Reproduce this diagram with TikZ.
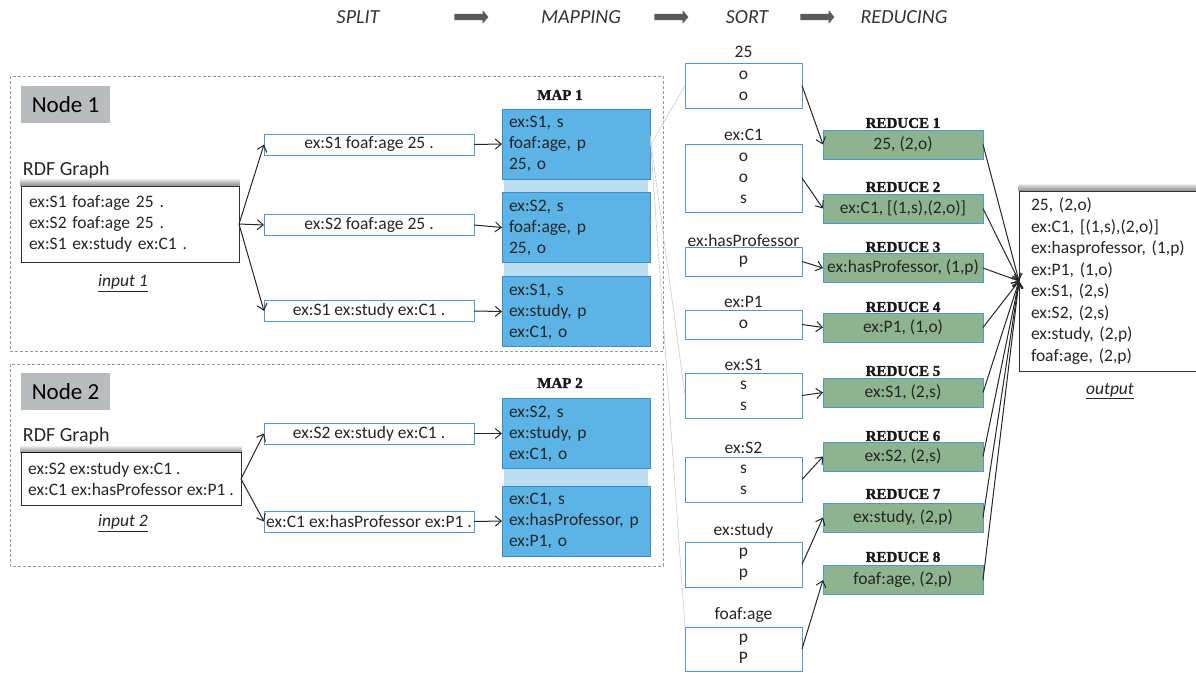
\documentclass[tikz,border=0pt]{standalone}
\usepackage{fontspec}
\setmainfont{Carlito}
\newfontfamily\titlefont{Liberation Serif}[BoldFeatures={FakeBold=1.6}]
\usetikzlibrary{arrows.meta,shapes.arrows}
\definecolor{mapblue}{HTML}{5BB4E5}
\definecolor{mapedge}{HTML}{3C8DCB}
\definecolor{gapblue}{HTML}{BDDDF2}
\definecolor{redgreen}{HTML}{8DB48E}
\definecolor{boxedge}{HTML}{4A9BCB}
\definecolor{nodegrey}{HTML}{B7BDBE}
\definecolor{arrowgrey}{HTML}{5A5A5A}
\tikzset{
 txt/.style={font=\fontsize{17.5}{21}\selectfont, text=black!85},
 hdr/.style={font=\fontsize{20}{22}\selectfont\itshape, text=black!80},
 harrow/.style={single arrow, fill=arrowgrey, draw=none, minimum height=34pt, minimum width=13pt, single arrow head extend=3.5pt, single arrow tip angle=100, inner xsep=0pt, inner ysep=3pt},
 dashbox/.style={draw=black!40, dash pattern=on 3pt off 2pt, line width=0.8pt},
 nodelabel/.style={fill=nodegrey, minimum width=89pt, minimum height=37pt, font=\fontsize{23}{26}\selectfont},
 inbox/.style={draw=black!80, fill=white, line width=0.8pt, txt, align=left, inner ysep=0pt},
 splitbox/.style={draw=boxedge, fill=white, line width=1pt, minimum width=210pt, minimum height=21pt, txt},
 mapbox/.style={fill=mapblue, draw=mapedge, line width=1pt, minimum width=148pt, minimum height=70pt, txt, align=left, text width=134pt, inner xsep=7pt, inner ysep=0pt},
 sortbox/.style={draw=boxedge, fill=white, line width=1pt, minimum width=117pt, txt, align=center},
 redbox/.style={fill=redgreen, draw=boxedge, line width=1pt, minimum width=160pt, minimum height=29pt, txt},
 ttl/.style={font=\titlefont\bfseries\fontsize{15}{17}\selectfont, text=black!90},
 arr/.style={draw=black!85, line width=1pt, -{Straight Barb[length=6pt,width=10pt]}},
 fan/.style={draw=black!20, line width=0.6pt},
}
\newcommand{\topshade}[1]{%
  \foreach \k in {1,...,7} \fill[black, opacity=0.07] ([xshift=-1pt]#1.north west) rectangle ([xshift=1pt, yshift=\k pt]#1.north east);}
\begin{document}
\begin{tikzpicture}[x=1pt,y=-1pt, every node/.append style={inner sep=0pt, outer sep=0pt}]
\useasboundingbox (0,0) rectangle (1196,672);
% header
\node[hdr] (hsplit) at (358,17) {SPLIT};
\node[harrow] (ha1) at (470,17) {};
\node[hdr] (hmap) at (581,17) {MAPPING};
\node[harrow] (ha2) at (670,17) {};
\node[hdr] (hsort) at (747,17) {SORT};
\node[harrow] (ha3) at (816,17) {};
\node[hdr] (hred) at (904,17) {REDUCING};
% node containers
\draw[dashbox] (10,76) rectangle (663,351);
\draw[dashbox] (10,364) rectangle (663,566);
\node[nodelabel] (n1) at (65.5,104.5) {Node 1};
\node[nodelabel] (n2) at (65.5,391.5) {Node 2};
% inputs
\node[font=\fontsize{20}{22}\selectfont, text=black!85, anchor=west] (rdf1) at (23,170) {RDF Graph};
\node[inbox, minimum width=218pt, minimum height=76pt, text width=202pt, inner xsep=8pt] (in1) at (130,224)
  {ex:S1 foaf:age 25 .\\ex:S2 foaf:age 25 .\\ex:S1 ex:study ex:C1 .};
\topshade{in1}
\node[txt] (lab1) at (123,283) {\itshape\underline{input 1}};
\node[font=\fontsize{20}{22}\selectfont, text=black!85, anchor=west] (rdf2) at (23,436) {RDF Graph};
\node[inbox, minimum width=220pt, minimum height=53pt] (in2) at (131,479)
  {ex:S2 ex:study ex:C1 .\\ex:C1 ex:hasProfessor ex:P1 .};
\topshade{in2}
\node[txt] (lab2) at (123,523) {\itshape\underline{input 2}};
% split
\node[splitbox] (sp1) at (369,144.5) {ex:S1 foaf:age 25 .};
\node[splitbox] (sp2) at (369,225) {ex:S2 foaf:age 25 .};
\node[splitbox] (sp3) at (369,311) {ex:S1 ex:study ex:C1 .};
\node[splitbox] (sp4) at (369,433.5) {ex:S2 ex:study ex:C1 .};
\node[splitbox] (sp5) at (369,521.5) {ex:C1 ex:hasProfessor ex:P1 .};
% map
\fill[gapblue] (504,179) rectangle (648,193);
\fill[gapblue] (504,262) rectangle (648,277);
\fill[gapblue] (504,468) rectangle (648,487);
\node[ttl] (map1) at (560,95) {MAP 1};
\node[mapbox] (m1a) at (576,144) {ex:S1, s\\foaf:age, p\\25, o};
\node[mapbox] (m1b) at (576,227.5) {ex:S2, s\\foaf:age, p\\25, o};
\node[mapbox] (m1c) at (576,311.5) {ex:S1, s\\ex:study, p\\ex:C1, o};
\node[ttl] (map2) at (560,383) {MAP 2};
\node[mapbox] (m2a) at (576,433.5) {ex:S2, s\\ex:study, p\\ex:C1, o};
\node[mapbox] (m2b) at (576,521) {ex:C1, s\\ex:hasProfessor, p\\ex:P1, o};
% sort
\node[sortbox, minimum height=45pt] (s1) at (743.5,85.5) {o\\o};
\node[sortbox, minimum height=68pt] (s2) at (743.5,178) {o\\o\\s};
\node[sortbox, minimum height=29pt] (s3) at (743.5,261.5) {p};
\node[sortbox, minimum height=29pt] (s4) at (743.5,324.5) {o};
\node[sortbox, minimum height=45pt] (s5) at (743.5,395.5) {s\\s};
\node[sortbox, minimum height=45pt] (s6) at (743.5,479.5) {s\\s};
\node[sortbox, minimum height=45pt] (s7) at (743.5,564.5) {p\\p};
\node[sortbox, minimum height=44pt] (s8) at (743.5,649) {p\\P};
\node[txt] (k1) at (743.5,52) {25};
\node[txt] (k2) at (743.5,135) {ex:C1};
\node[txt] (k3) at (743.5,240) {ex:hasProfessor};
\node[txt] (k4) at (743.5,302) {ex:P1};
\node[txt] (k5) at (743.5,365) {ex:S1};
\node[txt] (k6) at (743.5,448) {ex:S2};
\node[txt] (k7) at (743.5,531) {ex:study};
\node[txt] (k8) at (743.5,615) {foaf:age};
% reduce
\node[redbox] (r1) at (903,144.5) {25, (2,o)};
\node[redbox] (r2) at (903,208.5) {ex:C1, [(1,s),(2,o)]};
\node[redbox] (r3) at (903,268) {ex:hasProfessor, (1,p)};
\node[redbox] (r4) at (903,327.5) {ex:P1, (1,o)};
\node[redbox] (r5) at (903,392.5) {ex:S1, (2,s)};
\node[redbox] (r6) at (903,456.5) {ex:S2, (2,s)};
\node[redbox] (r7) at (903,517.5) {ex:study, (2,p)};
\node[redbox] (r8) at (903,580) {foaf:age, (2,p)};
\node[ttl] (t1) at (903,123) {REDUCE 1};
\node[ttl] (t2) at (903,187) {REDUCE 2};
\node[ttl] (t3) at (903,247) {REDUCE 3};
\node[ttl] (t4) at (903,307) {REDUCE 4};
\node[ttl] (t5) at (903,371) {REDUCE 5};
\node[ttl] (t6) at (903,436) {REDUCE 6};
\node[ttl] (t7) at (903,494) {REDUCE 7};
\node[ttl] (t8) at (903,557) {REDUCE 8};
% output
\node[draw=black!80, fill=white, line width=0.8pt, anchor=north west, minimum width=190pt, minimum height=180pt,
  text width=166pt, inner xsep=12pt, align=left, font=\fontsize{17.5}{21.5}\selectfont, text=black!85] (out) at (1019,191)
  {25, (2,o)\\ex:C1, [(1,s),(2,o)]\\ex:hasprofessor, (1,p)\\ex:P1, (1,o)\\ex:S1, (2,s)\\ex:S2, (2,s)\\ex:study, (2,p)\\foaf:age, (2,p)};
\topshade{out}
\node[txt] (labo) at (1110,391) {\itshape\underline{output}};
% fan lines
\draw[fan] ([yshift=-2pt]m1a.east) -- (s1.west);
\draw[fan] ([yshift=8pt]m1a.east) -- (s5.west);
\draw[fan] ([yshift=9pt]m1a.east) -- (s8.north west);
% connectors
\foreach \t in {sp1,sp2,sp3} \draw[arr] (in1.east) -- (\t.west);
\foreach \t in {sp4,sp5} \draw[arr] (in2.east) -- (\t.west);
\draw[arr] (sp1.east) -- (m1a.west);
\draw[arr] (sp2.east) -- (m1b.west);
\draw[arr] (sp3.east) -- (m1c.west);
\draw[arr] (sp4.east) -- (m2a.west);
\draw[arr] (sp5.east) -- (m2b.west);
\foreach \i in {1,...,8} \draw[arr] (s\i.east) -- (r\i.west);
\foreach \i in {1,...,8} \draw[arr] (r\i.east) -- (out.west);
\end{tikzpicture}
\end{document}
